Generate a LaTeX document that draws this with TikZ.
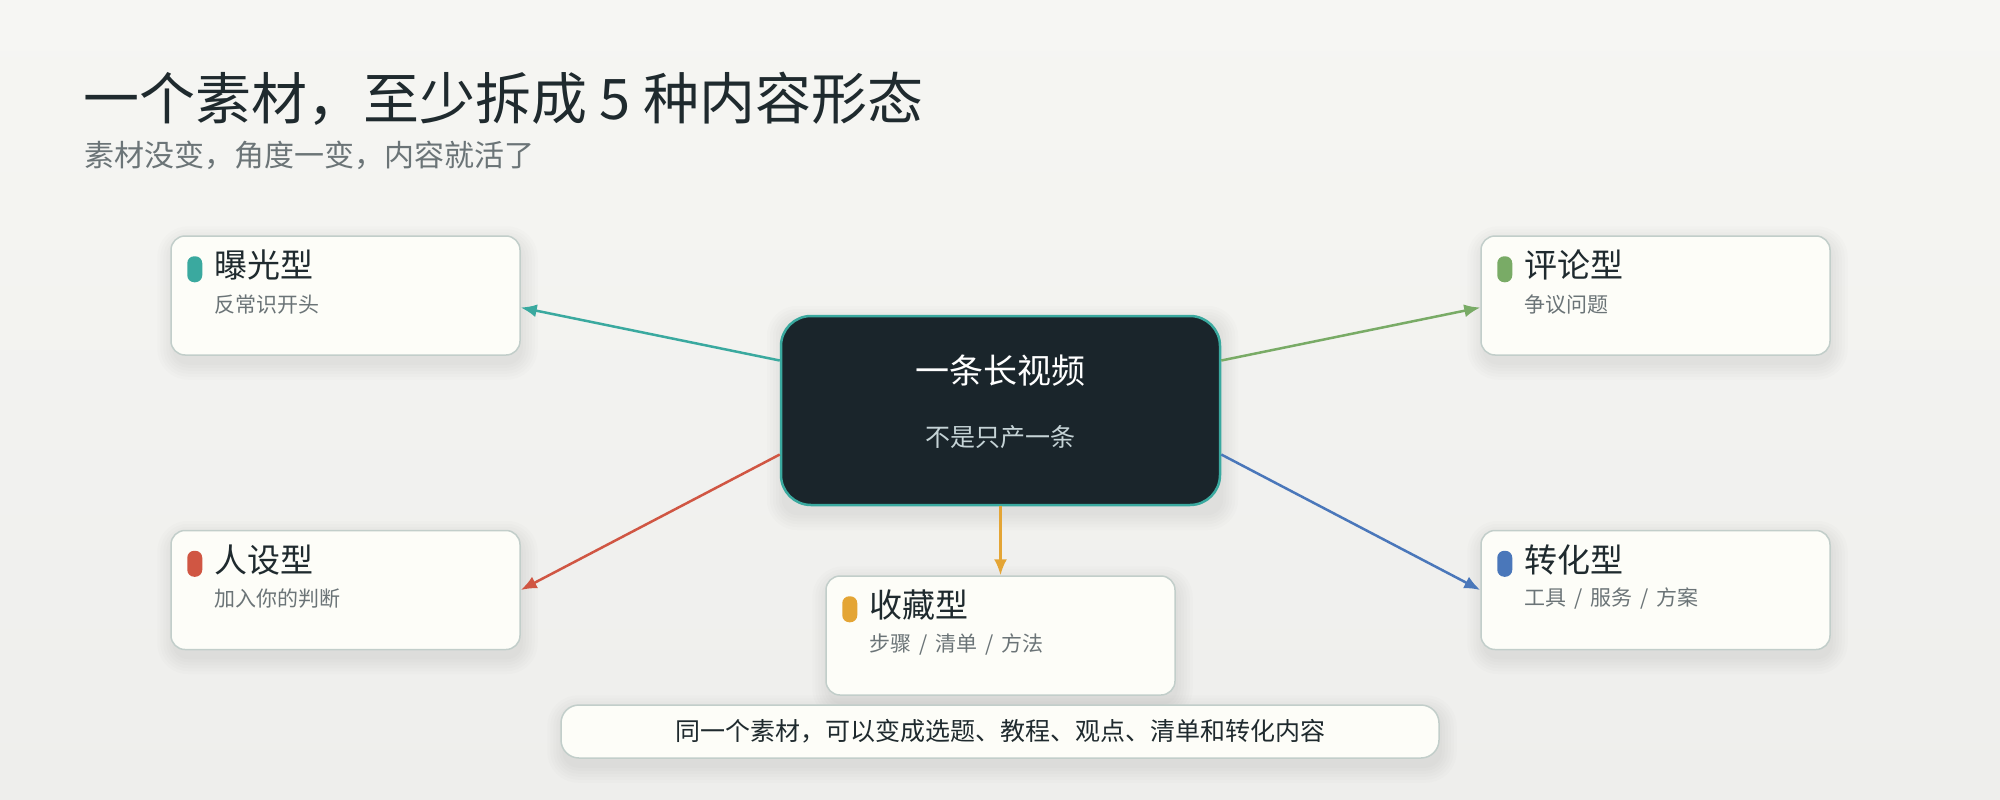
\documentclass[tikz,border=0pt]{standalone}
\usepackage{fontspec}
\setmainfont{Noto Sans CJK SC}
\usetikzlibrary{arrows.meta,backgrounds}

\definecolor{bgtop}{HTML}{F6F6F3}
\definecolor{bgbot}{HTML}{EEEEEC}
\definecolor{ink}{HTML}{1F2A2E}
\definecolor{mute}{HTML}{6B7477}
\definecolor{cardfill}{HTML}{FDFDF8}
\definecolor{cardline}{HTML}{C2CECA}
\definecolor{hubfill}{HTML}{1A252B}
\definecolor{hubsubc}{HTML}{C5D3D6}
\definecolor{tealc}{HTML}{3AA99F}
\definecolor{greenc}{HTML}{79AB66}
\definecolor{redc}{HTML}{D05643}
\definecolor{bluec}{HTML}{4A77BA}
\definecolor{orangec}{HTML}{E4A535}

\begin{document}
\begin{tikzpicture}[
        x=1pt, y=-1pt,
        card node/.style={rectangle, draw=cardline, line width=1.5pt, fill=cardfill, rounded corners=14pt,
            minimum width=349pt, minimum height=119pt, inner sep=0pt},
        hub node/.style={rectangle, draw=tealc, line width=2.5pt, fill=hubfill, rounded corners=30pt,
            minimum width=439pt, minimum height=189pt, inner sep=0pt},
        pill node/.style={rectangle, rounded corners=7pt, minimum width=15pt, minimum height=26pt, inner sep=0pt},
        head node/.style={anchor=west, inner sep=0pt, text=ink, font=\fontsize{33}{38}\selectfont},
        sub node/.style={anchor=west, inner sep=0pt, text=mute, font=\fontsize{21}{25}\selectfont},
        link/.style={line width=2.5pt, -{Latex[length=16pt,width=13pt]}},
    ]

    \useasboundingbox (0,0) rectangle (2000,800);

    % heading
    \node[anchor=west, inner sep=0pt, text=ink, font=\fontsize{56}{60}\selectfont] (title) at (83,99) {一个素材，至少拆成 5 种内容形态};
    \node[anchor=west, inner sep=0pt, text=mute, font=\fontsize{30}{34}\selectfont] (subtitle) at (84,155) {素材没变，角度一变，内容就活了};

    % centre
    \node[hub node] (hub) at (1000.5,410.5) {};
    \node[inner sep=0pt, text=white, font=\fontsize{34}{38}\selectfont] (hubtitle) at (1000,371) {一条长视频};
    \node[inner sep=0pt, text=hubsubc, font=\fontsize{25}{29}\selectfont] (hubsub) at (1000,437) {不是只产一条};

    % cards
    \node[card node] (expo) at (345.5,295.5) {};
    \node[card node] (comm) at (1655.5,295.5) {};
    \node[card node] (persona) at (345.5,590) {};
    \node[card node] (convert) at (1655.5,590) {};
    \node[card node] (collect) at (1000.5,635.5) {};

    \node[pill node, fill=tealc] (expodot) at ([xshift=24.5pt,yshift=-34pt]expo.north west) {};
    \node[head node] (expohead) at ([xshift=44pt,yshift=-30pt]expo.north west) {曝光型};
    \node[sub node] (exposub) at ([xshift=44pt,yshift=-69pt]expo.north west) {反常识开头};

    \node[pill node, fill=greenc] (commdot) at ([xshift=24.5pt,yshift=-34pt]comm.north west) {};
    \node[head node] (commhead) at ([xshift=44pt,yshift=-30pt]comm.north west) {评论型};
    \node[sub node] (commsub) at ([xshift=44pt,yshift=-69pt]comm.north west) {争议问题};

    \node[pill node, fill=redc] (personadot) at ([xshift=24.5pt,yshift=-34pt]persona.north west) {};
    \node[head node] (personahead) at ([xshift=44pt,yshift=-30pt]persona.north west) {人设型};
    \node[sub node] (personasub) at ([xshift=44pt,yshift=-69pt]persona.north west) {加入你的判断};

    \node[pill node, fill=bluec] (convertdot) at ([xshift=24.5pt,yshift=-34pt]convert.north west) {};
    \node[head node] (converthead) at ([xshift=44pt,yshift=-30pt]convert.north west) {转化型};
    \node[sub node] (convertsub) at ([xshift=44pt,yshift=-69pt]convert.north west) {工具\hspace{0.38em}/\hspace{0.38em}服务\hspace{0.38em}/\hspace{0.38em}方案};

    \node[pill node, fill=orangec] (collectdot) at ([xshift=24.5pt,yshift=-34pt]collect.north west) {};
    \node[head node] (collecthead) at ([xshift=44pt,yshift=-30pt]collect.north west) {收藏型};
    \node[sub node] (collectsub) at ([xshift=44pt,yshift=-69pt]collect.north west) {步骤\hspace{0.38em}/\hspace{0.38em}清单\hspace{0.38em}/\hspace{0.38em}方法};

    % footer
    \node[rectangle, draw=cardline, line width=1.5pt, fill=cardfill, rounded corners=18pt,
        minimum width=878pt, minimum height=53pt, inner sep=0pt, text=ink, font=\fontsize{25}{29}\selectfont]
        (note) at (1000,731.5) {同一个素材，可以变成选题、教程、观点、清单和转化内容};

    \draw[link, tealc] ([yshift=50pt]hub.west) -- ([yshift=-12pt]expo.east);
    \draw[link, greenc] ([yshift=50pt]hub.east) -- ([yshift=-12pt]comm.west);
    \draw[link, redc] ([yshift=-44pt]hub.west) -- (persona.east);
    \draw[link, bluec] ([yshift=-44pt]hub.east) -- (convert.west);
    \draw[link, orangec] (hub.south) -- (collect.north);

    % background and soft shadows
    \begin{scope}[on background layer]
        \shade[top color=bgtop, bottom color=bgbot] (0,0) rectangle (2000,800);
        \foreach \n in {expo,comm,persona,convert,collect,hub,note}
            \foreach \r in {0,3,...,15}
                \fill[black, opacity=0.012, rounded corners={16pt+\r pt}]
                    ([xshift={-\r pt+2pt}, yshift={\r pt-6pt}]\n.north west) rectangle
                    ([xshift={\r pt+2pt}, yshift={-\r pt-9pt}]\n.south east);
    \end{scope}
\end{tikzpicture}
\end{document}
